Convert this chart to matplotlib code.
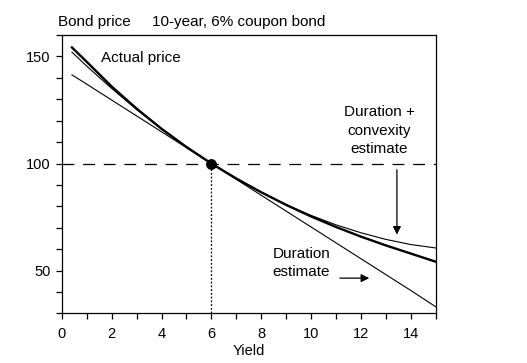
import matplotlib
matplotlib.use("Agg")
import matplotlib.pyplot as plt
from matplotlib.ticker import MultipleLocator

plt.rcParams["font.family"] = ["Liberation Sans", "DejaVu Sans"]

# ── Data ──────────────────────────────────────────────────────────────────────
yields = [0.4, 1, 2, 3, 4, 5, 6, 7, 8, 9, 10, 11, 12, 13, 14, 15]
actual_price = [154.2, 147.4, 135.9, 125.6, 116.2, 107.7, 100.0, 93.0,
                86.6, 80.7, 75.3, 70.4, 65.9, 61.8, 58.0, 54.2]
duration_est = [141.4, 137.0, 129.6, 122.2, 114.8, 107.4, 100.0, 92.6,
                85.2, 77.8, 70.4, 63.0, 55.6, 48.2, 40.8, 33.2]
convexity_est = [152.0, 145.4, 135.0, 125.2, 116.1, 107.7, 100.0, 92.9,
                 86.5, 80.8, 75.8, 71.4, 67.7, 64.6, 62.2, 60.6]
par_yield = 6
par_price = 100

fig = plt.figure(figsize=(5.27, 3.63), dpi=100)
ax = fig.add_axes([0.1176, 0.1364, 0.7088, 0.7672])

ax.plot(yields, duration_est, color="black", lw=0.8)
ax.plot(yields, convexity_est, color="black", lw=0.8)
ax.plot(yields, actual_price, color="black", lw=1.7)

# reference lines through the par point
ax.axhline(par_price, color="black", lw=0.9, dashes=(9.5, 7))
ax.plot([par_yield, par_yield], [30, par_price], color="black", lw=0.9,
        linestyle=(0, (1.5, 1.5)))
ax.plot([par_yield], [par_price], "o", color="black", ms=6.8, zorder=5)

ax.set_xlim(0, 15)
ax.set_ylim(30, 160)
ax.set_xticks(range(0, 15, 2))
ax.set_yticks([50, 100, 150])
ax.xaxis.set_minor_locator(MultipleLocator(1))
ax.yaxis.set_minor_locator(MultipleLocator(10))
ax.tick_params(which="both", direction="out", length=4, width=0.9,
               labelsize=10.5)
ax.tick_params(axis="x", pad=6)
ax.tick_params(axis="y", pad=4)
for s in ax.spines.values():
    s.set_linewidth(0.9)

ax.set_xlabel("Yield", fontsize=10.5, labelpad=2)

fig.text(0.110, 0.940, "Bond price", fontsize=11, ha="left", va="center")
fig.text(0.288, 0.940, "10-year, 6% coupon bond", fontsize=11,
         ha="left", va="center")

ax.text(1.55, 149.3, "Actual price", fontsize=11, ha="left", va="center")
ax.text(12.75, 115.4, "Duration +\nconvexity\nestimate", fontsize=11,
        ha="center", va="center", linespacing=1.42)
ax.text(8.45, 53.6, "Duration\nestimate", fontsize=11, ha="left",
        va="center", linespacing=1.42)

ax.annotate("", xy=(13.45, 65.5), xytext=(13.45, 98.4),
            arrowprops=dict(arrowstyle="-|>", color="black", lw=0.9,
                            mutation_scale=12))
ax.annotate("", xy=(12.45, 46.5), xytext=(11.05, 46.5),
            arrowprops=dict(arrowstyle="-|>", color="black", lw=0.9,
                            mutation_scale=12))

fig.savefig("out.png", dpi=100)
